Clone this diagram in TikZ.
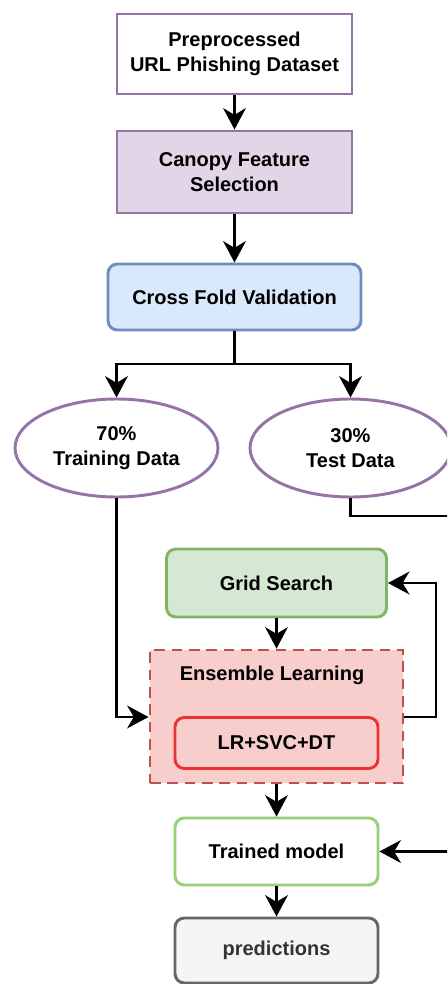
\documentclass[tikz,border=0pt]{standalone}
\usepackage{fontspec}
\setmainfont{Liberation Sans}
\usetikzlibrary{arrows.meta,shapes.geometric,positioning}
\definecolor{purpB}{HTML}{9673A6}
\definecolor{purpF}{HTML}{E1D5E7}
\definecolor{blueB}{HTML}{6C8EBF}
\definecolor{blueF}{HTML}{DAE8FC}
\definecolor{greenB}{HTML}{82B366}
\definecolor{greenF}{HTML}{D5E8D4}
\definecolor{redB}{HTML}{B85450}
\definecolor{redF}{HTML}{F8CECC}
\definecolor{redL}{HTML}{EA3333}
\definecolor{lgreenB}{HTML}{97D077}
\definecolor{grayB}{HTML}{666666}
\definecolor{grayF}{HTML}{F5F5F5}
\tikzset{
  lbl/.style={font=\fontsize{15}{19}\selectfont\bfseries},
  box/.style={draw, line width=2.2pt, align=center, lbl, inner sep=0pt},
  rbox/.style={box, rounded corners=7pt},
  oval/.style={box, ellipse, draw=purpB, fill=white},
  arr/.style={line width=2.2pt, -{Stealth[length=16pt,width=17pt,inset=5pt]}},
  ln/.style={line width=2.2pt},
}
\begin{document}
\begin{tikzpicture}[x=0.75pt,y=-0.75pt]
\useasboundingbox (0,0) rectangle (447,984);
\clip (0,0) rectangle (447,984);
\node[box, draw=purpB, fill=white, minimum width=235*0.75pt, minimum height=80*0.75pt] (pre) at (234.5,54) {Preprocessed\\URL Phishing Dataset};
\node[box, draw=purpB, fill=purpF, minimum width=235*0.75pt, minimum height=82*0.75pt] (can) at (234.5,172) {Canopy Feature\\Selection};
\node[rbox, draw=blueB, fill=blueF, minimum width=253*0.75pt, minimum height=66*0.75pt] (cfv) at (234.5,297) {Cross Fold Validation};
\node[oval, minimum width=203*0.75pt, minimum height=98*0.75pt] (tr) at (116.5,448) {70\%\\Training Data};
\node[oval, minimum width=201*0.75pt, minimum height=98*0.75pt] (te) at (350.5,448) {30\%\\Test Data};
\node[rbox, draw=greenB, fill=greenF, minimum width=220*0.75pt, minimum height=68*0.75pt] (gs) at (276.5,583) {Grid Search};
\node[box, draw=redB, fill=redF, dashed, dash pattern=on 8pt off 5pt, minimum width=253*0.75pt, minimum height=133*0.75pt] (ens) at (276.5,716.5) {};
\node[lbl] (enl) at (272,675) {Ensemble Learning};
\node[rbox, draw=redL, fill=redF, minimum width=203*0.75pt, minimum height=51*0.75pt] (lr) at (276.5,743) {LR+SVC+DT};
\node[rbox, draw=lgreenB, fill=white, minimum width=203*0.75pt, minimum height=67*0.75pt] (tm) at (276.5,851.5) {Trained model};
\node[rbox, draw=grayB, fill=grayF, text=black!80, minimum width=203*0.75pt, minimum height=65*0.75pt] (pr) at (276.5,950.5) {predictions};
\coordinate (split) at (234.5,364);
\coordinate (trc) at (116.5,717);
\coordinate (fb) at (436,717);
\coordinate (fbt) at (436,583);
\coordinate (tec) at (350.5,516);
\coordinate (ter) at (470,516);
\coordinate (terb) at (470,851.5);
\draw[arr] (pre) -- (can);
\draw[arr] (can) -- (cfv);
\draw[ln] (cfv) -- (split);
\draw[arr] (split) -| (tr.north);
\draw[arr] (split) -| (te.north);
\draw[arr] (tr.south) -- (trc) -- (ens.west |- trc);
\draw[arr] (gs) -- (ens.north -| gs);
\draw[arr] (ens.east |- fb) -- (fb) -- (fbt) -- (gs.east);
\draw[arr] (ens.south -| tm) -- (tm);
\draw[arr] (tm) -- (pr);
\draw[arr] (te.south) -- (tec) -- (ter) -- (terb) -- (tm.east);
\end{tikzpicture}
\end{document}
